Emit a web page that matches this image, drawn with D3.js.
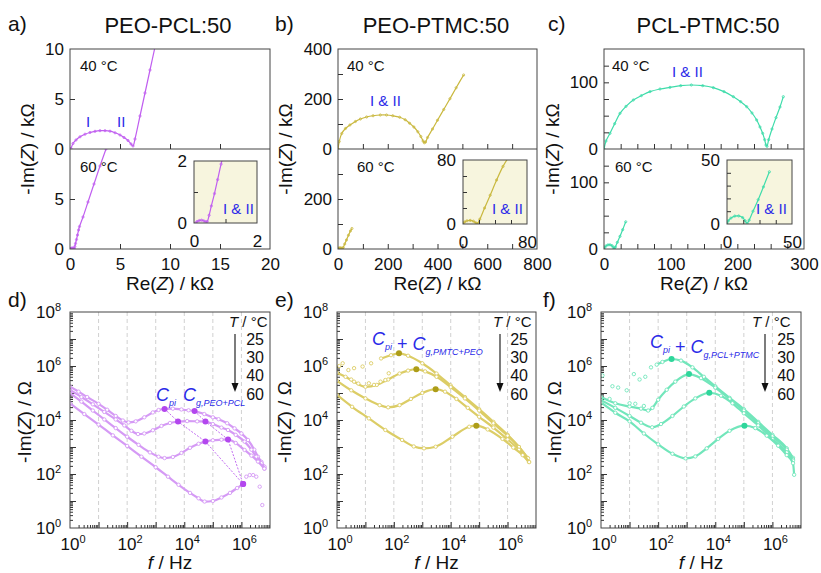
<!DOCTYPE html>
<html><head><meta charset="utf-8">
<script src="https://cdn.jsdelivr.net/npm/d3@7"></script>
<style>body{margin:0;background:#fff} svg text{font-family:"Liberation Sans",Arial,sans-serif}</style>
</head><body>
<svg id="c" width="821" height="573"></svg>
<script>
// ================= DATA =================
const titles = ["PEO-PCL:50", "PEO-PTMC:50", "PCL-PTMC:50"];
const letters = ["a)", "b)", "c)", "d)", "e)", "f)"];
const nyqTemps = ["40 °C", "60 °C"];
const bodeTemps = ["25", "30", "40", "60"];

// Nyquist data: [Re(Z) kΩ, -Im(Z) kΩ]
const a40 = [[0.1,0.05],[0.3,0.55],[0.6,0.9],[1.0,1.22],[1.5,1.48],[2.0,1.65],[2.5,1.77],[3.0,1.83],[3.5,1.83],[4.0,1.78],[4.5,1.62],[5.0,1.4],[5.4,1.15],[5.8,0.85],[6.1,0.5],[6.3,0.3],[6.5,1.0],[7.0,3.3],[7.5,5.6],[8.0,7.9],[8.5,10.2]];
const a60 = [[0.05,0],[0.1,0.05],[0.17,0.08],[0.24,0.09],[0.31,0.07],[0.37,0.04],[0.42,0.05],[0.48,0.25],[0.55,0.55],[0.65,0.95],[0.75,1.4],[0.86,1.9],[0.95,2.25],[1.3,3.2],[1.8,4.7],[2.4,6.5],[3.0,8.3],[3.6,10.0],[3.8,10.6]];
const b40 = [[0,0],[5,30],[15,62],[30,82],[48,96],[70,110],[90,120],[115,128],[141,133],[170,136],[195,136],[220,133],[248,127],[270,117],[288,103],[305,88],[321,69],[333,50],[342,32],[347,25],[352,28],[360,46],[380,80],[400,115],[425,158],[450,201],[475,245],[505,296]];
const b60 = [[0,0],[2,2.5],[5,4],[9,4.5],[13,3.5],[16,1.5],[18,0.5],[21,6],[27,20],[34,36],[42,55],[50,72],[56,82]];
const c40 = [[0,0],[3,12],[9,23.5],[16,38],[24,53.5],[33,64],[44,73.5],[56,80],[69,86],[84,90],[99,92.5],[115,95],[131,96],[148,95],[164,92],[180,86],[194,78.5],[205,71],[214,63.5],[222,54],[229,43.5],[234,33],[238,23.5],[241,14],[243,6],[244.5,4],[247,14],[252,30],[258,47],[264,63],[269,78.5]];
const c60 = [[0,0],[1,2.5],[3,4.6],[6,6.2],[9,6.3],[12,5],[14,2.5],[15.5,0.5],[17,3],[20,10],[24,19],[28,29],[32.6,40.8]];

// Nyquist axis ticks
const aXLabels = [0,5,10,15,20], aXTicks = [5,10,15], aYTopLabels = [0,5,10], aYBotLabels = [0,5], aYTicks = [5];
const bXLabels = [0,200,400,600,800], bXTicks = [100,200,300,400,500,600,700], bYTopLabels = [0,200,400], bYBotLabels = [0,200], bYTicks = [100,200,300];
const cXLabels = [0,100,200,300], cXTicks = [25,50,75,100,125,150,175,200,225,250,275], cYTopLabels = [0,100], cYBotLabels = [0,100], cYTicks = [25,50,75,100,125];
const aInsetTicksX = [1], aInsetTicksY = [1];
const bInsetTicksX = [20,40,60], bInsetTicksY = [20,40,60];
const cInsetTicksX = [12.5,25,37.5], cInsetTicksY = [10,20,30,40];

// Bode data: [log10(f / Hz), log10(-Im(Z) / Ω)]
const d25 = [[0,5.23],[0.3,5.05],[0.6,4.85],[1.0,4.6],[1.3,4.38],[1.6,4.15],[1.85,3.98],[2.05,3.91],[2.3,3.95],[2.6,4.1],[2.9,4.28],[3.1,4.37],[3.31,4.41],[3.6,4.42],[3.9,4.39],[4.15,4.36],[4.36,4.33],[4.7,4.22],[5.0,4.1],[5.2,4.03],[5.5,3.88],[5.76,3.69],[6.0,3.5],[6.23,3.26],[6.45,2.9],[6.58,2.64],[6.7,2.45],[6.81,2.27]];
const d30 = [[0,5.11],[0.4,4.85],[0.8,4.58],[1.2,4.3],[1.6,4.02],[1.9,3.8],[2.15,3.6],[2.38,3.48],[2.6,3.5],[2.9,3.62],[3.2,3.78],[3.5,3.89],[3.78,3.94],[4.1,3.96],[4.45,3.95],[4.74,3.94],[5.0,3.85],[5.3,3.72],[5.53,3.63],[5.8,3.45],[6.11,3.2],[6.35,2.9],[6.52,2.64],[6.7,2.4],[6.81,2.2]];
const d40 = [[0,5.0],[0.4,4.68],[0.8,4.35],[1.2,4.02],[1.6,3.7],[2.0,3.38],[2.4,3.08],[2.8,2.8],[3.1,2.64],[3.31,2.59],[3.6,2.63],[3.9,2.78],[4.2,2.97],[4.5,3.12],[4.74,3.2],[5.0,3.25],[5.3,3.27],[5.53,3.28],[5.8,3.15],[6.11,2.89],[6.35,2.68],[6.58,2.46],[6.8,2.2]];
const d60 = [[0,4.62],[0.5,4.22],[1.0,3.83],[1.5,3.43],[2.0,3.04],[2.5,2.64],[3.0,2.25],[3.43,1.9],[3.8,1.6],[4.2,1.3],[4.5,1.1],[4.71,0.98],[5.0,1.0],[5.3,1.13],[5.6,1.3],[5.85,1.48],[6.06,1.63]];
const d60tail = [[6.17,1.9],[6.29,1.96],[6.41,1.96],[6.52,1.9],[6.64,1.53],[6.73,0.85]];
const dCpi = [[3.31,4.41],[3.78,3.94],[4.74,3.2],[6.06,1.63]];
const dCg  = [[4.36,4.33],[4.74,3.94],[5.53,3.28],[6.06,1.63]];

const e25 = [[1.55,6.28],[1.9,6.4],[2.18,6.47],[2.5,6.38],[3.0,6.1],[3.5,5.72],[4.0,5.28],[4.5,4.85],[5.0,4.4],[5.5,3.93],[6.0,3.45],[6.4,3.0],[6.7,2.6]];
const e30 = [[0,5.75],[0.3,5.6],[0.6,5.42],[1.0,5.23],[1.4,5.3],[1.8,5.5],[2.2,5.72],[2.5,5.83],[2.79,5.88],[3.1,5.8],[3.5,5.6],[4.0,5.22],[4.5,4.8],[5.0,4.35],[5.5,3.88],[6.0,3.42],[6.4,3.0],[6.72,2.58]];
const e40 = [[0,5.45],[0.5,5.1],[1.0,4.8],[1.5,4.55],[1.8,4.47],[2.2,4.55],[2.6,4.78],[3.0,5.0],[3.47,5.14],[3.8,5.05],[4.2,4.78],[4.6,4.45],[5.0,4.12],[5.5,3.72],[6.0,3.28],[6.4,2.9],[6.75,2.45]];
const e60 = [[0,4.93],[0.53,4.49],[1.12,4.06],[1.7,3.63],[2.29,3.26],[2.7,3.02],[3.06,2.95],[3.47,3.01],[4.06,3.38],[4.65,3.75],[4.9,3.79],[5.3,3.65],[5.82,3.3],[6.2,2.98],[6.53,2.7],[6.76,2.44]];
const eScatter = [[0.08,6.0],[0.2,6.1],[0.4,5.85],[0.6,5.92],[0.9,5.98],[1.2,6.1],[1.12,5.36],[1.3,5.3],[1.53,5.42],[1.7,5.48],[1.82,5.73],[0.5,5.5],[0.75,5.35]];
const eMark = [[2.18,6.47],[2.79,5.88],[3.47,5.14],[4.9,3.79]];

const f25 = [[1.95,6.05],[2.15,6.15],[2.47,6.26],[2.8,6.2],[3.2,5.95],[3.6,5.6],[4.0,5.25],[4.5,4.82],[5.0,4.4],[5.5,3.93],[6.0,3.45],[6.5,2.95],[6.72,2.6]];
const f30 = [[0,4.85],[0.5,4.62],[1.0,4.5],[1.4,4.42],[1.65,4.35],[1.8,4.45],[2.0,4.75],[2.3,5.12],[2.6,5.42],[3.08,5.7],[3.5,5.55],[4.0,5.2],[4.5,4.78],[5.0,4.35],[5.5,3.88],[6.0,3.4],[6.5,2.9],[6.72,2.55]];
const f40 = [[0,4.74],[0.5,4.45],[1.0,4.15],[1.4,3.9],[1.79,3.73],[2.1,3.85],[2.5,4.15],[2.9,4.5],[3.3,4.8],[3.79,5.01],[4.2,4.9],[4.6,4.62],[5.0,4.25],[5.5,3.8],[6.0,3.3],[6.5,2.8],[6.72,2.5]];
const f60 = [[0,4.65],[0.5,4.27],[1.0,3.95],[1.5,3.5],[2.0,3.1],[2.5,2.75],[2.96,2.58],[3.3,2.65],[3.7,2.95],[4.1,3.3],[4.5,3.6],[5.02,3.79],[5.4,3.7],[5.8,3.42],[6.2,3.05],[6.5,2.7],[6.72,2.4],[6.76,1.97]];
const fScatter = [[0.05,5.65],[0.4,5.25],[0.6,5.2],[0.9,5.1],[1.15,5.7],[1.35,5.5],[1.55,5.6],[1.75,5.95],[0.3,4.78],[1.2,4.6],[1.5,4.52],[1.0,4.62]];
const fMark = [[2.47,6.26],[3.08,5.7],[3.79,5.01],[5.02,3.79]];

const bodeXLabelExp = [0,2,4,6];
const bodeYLabelExp = [0,2,4,6,8];

// ================= DRAWING =================
const svg = d3.select("#c");
const defs = svg.append("defs");
const FONT = '"Liberation Sans", Arial, sans-serif';
const BLUE = "#2b2be8";
let clipN = 0;
function clip(x, y, w, h) {
  const id = "clip" + (clipN++);
  defs.append("clipPath").attr("id", id).append("rect").attr("x", x).attr("y", y).attr("width", w).attr("height", h);
  return "url(#" + id + ")";
}
function txt(g, x, y, s, size, anchor, color, italic) {
  return g.append("text").attr("x", x).attr("y", y).attr("font-size", size)
    .attr("text-anchor", anchor || "start").attr("fill", color || "#111")
    .attr("font-style", italic ? "italic" : null).text(s);
}
function styleAxis(sel, size) {
  sel.attr("font-family", FONT).attr("font-size", size);
  sel.select(".domain").remove();
  sel.selectAll("line").attr("stroke", "#333");
  sel.selectAll("text").attr("fill", "#111");
}
function zLabel(t, pre, post) {
  t.append("tspan").text(pre);
  t.append("tspan").attr("font-style", "italic").text("Z");
  t.append("tspan").text(post);
}

function nyquist(o) {
  const g = svg.append("g");
  const T = 49, M = 149, B = 249;
  const x = d3.scaleLinear().domain([0, o.xmax]).range([o.x0, o.x1]);
  const yT = d3.scaleLinear().domain([0, o.ymax]).range([M, T]);
  const yB = d3.scaleLinear().domain([0, o.ymax]).range([B, M]);
  const line = (xs, ys) => d3.line().x(d => xs(d[0])).y(d => ys(d[1])).curve(d3.curveCatmullRom);
  function curve(data, xs, ys, cp) {
    const cg = g.append("g").attr("clip-path", cp);
    cg.append("path").attr("d", line(xs, ys)(data)).attr("fill", "none").attr("stroke", o.color).attr("stroke-width", 1.2);
    cg.selectAll("circle.m").data(data).enter().append("circle")
      .attr("cx", d => xs(d[0])).attr("cy", d => ys(d[1])).attr("r", 1.1)
      .attr("fill", "none").attr("stroke", o.color).attr("stroke-width", 0.8);
  }
  curve(o.top, x, yT, clip(o.x0, T, o.x1 - o.x0, M - T));
  curve(o.bot, x, yB, clip(o.x0, M, o.x1 - o.x0, B - M));
  // frame
  g.append("rect").attr("x", o.x0).attr("y", T).attr("width", o.x1 - o.x0).attr("height", B - T).attr("fill", "none").attr("stroke", "#444").attr("stroke-width", 1);
  g.append("line").attr("x1", o.x0).attr("x2", o.x1).attr("y1", M).attr("y2", M).attr("stroke", "#444");
  // ticks
  [[M], [B]].forEach(([yy]) => {
    const ax = g.append("g").attr("transform", `translate(0,${yy})`).call(d3.axisBottom(x).tickValues(o.xTicks).tickSize(-5).tickFormat(""));
    styleAxis(ax, 17);
  });
  [yT, yB].forEach(ys => {
    const ax = g.append("g").attr("transform", `translate(${o.x0},0)`).call(d3.axisLeft(ys).tickValues(o.yTicks).tickSize(-5).tickFormat(""));
    styleAxis(ax, 17);
  });
  // labels
  let ax = g.append("g").attr("transform", `translate(0,${B})`).call(d3.axisBottom(x).tickValues(o.xLabels).tickSize(0).tickPadding(9).tickFormat(d3.format("d")));
  styleAxis(ax, 17);
  ax = g.append("g").attr("transform", `translate(${o.x0},0)`).call(d3.axisLeft(yT).tickValues(o.yTopLabels).tickSize(0).tickPadding(6).tickFormat(d3.format("d")));
  styleAxis(ax, 17);
  ax = g.append("g").attr("transform", `translate(${o.x0},0)`).call(d3.axisLeft(yB).tickValues(o.yBotLabels).tickSize(0).tickPadding(6).tickFormat(d3.format("d")));
  styleAxis(ax, 17);
  // inset
  const I = o.inset;
  const xi = d3.scaleLinear().domain([0, I.max]).range([I.x0, I.x1]);
  const yi = d3.scaleLinear().domain([0, I.max]).range([I.y1, I.y0]);
  g.append("rect").attr("x", I.x0).attr("y", I.y0).attr("width", I.x1 - I.x0).attr("height", I.y1 - I.y0).attr("fill", "#f7f5de");
  curve(o.bot, xi, yi, clip(I.x0, I.y0, I.x1 - I.x0, I.y1 - I.y0));
  g.append("rect").attr("x", I.x0).attr("y", I.y0).attr("width", I.x1 - I.x0).attr("height", I.y1 - I.y0).attr("fill", "none").attr("stroke", "#444");
  ax = g.append("g").attr("transform", `translate(0,${I.y1})`).call(d3.axisBottom(xi).tickValues(I.tx).tickSize(-4).tickFormat(""));
  styleAxis(ax, 17);
  ax = g.append("g").attr("transform", `translate(${I.x0},0)`).call(d3.axisLeft(yi).tickValues(I.ty).tickSize(-4).tickFormat(""));
  styleAxis(ax, 17);
  ax = g.append("g").attr("transform", `translate(0,${I.y1})`).call(d3.axisBottom(xi).tickValues([0, I.max]).tickSize(0).tickPadding(12).tickFormat(d3.format("d")));
  styleAxis(ax, 17);
  ax = g.append("g").attr("transform", `translate(${I.x0},0)`).call(d3.axisLeft(yi).tickValues([0, I.max]).tickSize(0).tickPadding(7).tickFormat(d3.format("d")));
  styleAxis(ax, 17);
  // texts
  txt(g, o.x0 + o.t40dx, 71, nyqTemps[0], 15);
  txt(g, o.x0 + o.t60dx, 172, nyqTemps[1], 15);
  o.blue.forEach(b => txt(g, b[0], b[1], b[2], 15, "start", BLUE));
  txt(g, I.x0 + 29, 214, "I & II", 15, "start", BLUE);
  txt(g, o.letterX, 31, o.letter, 21);
  txt(g, o.titleX, 33, o.title, 22, "middle");
  const xt = g.append("text").attr("x", (o.x0 + o.x1) / 2).attr("y", 290).attr("font-size", 19).attr("text-anchor", "middle").attr("fill", "#111");
  zLabel(xt, "Re(", ") / kΩ");
  const yt = g.append("text").attr("transform", `translate(${o.ylabX + 7},149) rotate(-90)`).attr("font-size", 19).attr("text-anchor", "middle").attr("fill", "#111");
  zLabel(yt, "-Im(", ") / kΩ");
}

function pow10Label(g, x, y, e, anchor, size) {
  const t = g.append("text").attr("x", x).attr("y", y).attr("text-anchor", anchor).attr("font-size", size).attr("fill", "#111");
  t.append("tspan").text("10");
  t.append("tspan").attr("font-size", 11).attr("dy", -7).text(e);
}

function bode(o) {
  const g = svg.append("g");
  const T = 312, B = 528;
  const x = d3.scaleLog().domain([1, 1e7]).range([o.x0, o.x1]);
  const y = d3.scaleLog().domain([1, 1e8]).range([B, T]);
  const P = d => [Math.pow(10, d[0]), Math.pow(10, d[1])];
  // grid
  const dec = d3.range(1, 7).map(e => Math.pow(10, e));
  g.selectAll("line.grid").data(dec).enter().append("line")
    .attr("x1", d => x(d)).attr("x2", d => x(d)).attr("y1", T).attr("y2", B)
    .attr("stroke", "#c4c4c4").attr("stroke-width", 0.8).attr("stroke-dasharray", "4,3");
  // ticks
  const minorX = [], minorY = [];
  for (let e = 0; e < 7; e++) for (let k = 2; k < 10; k++) minorX.push(k * Math.pow(10, e));
  for (let e = 0; e < 8; e++) for (let k = 2; k < 10; k++) minorY.push(k * Math.pow(10, e));
  const majX = d3.range(1, 7).map(e => Math.pow(10, e));
  const majY = d3.range(1, 8).map(e => Math.pow(10, e));
  let ax = g.append("g").attr("transform", `translate(0,${B})`).call(d3.axisBottom(x).tickValues(minorX).tickSize(-3).tickFormat(""));
  styleAxis(ax, 16);
  ax = g.append("g").attr("transform", `translate(0,${B})`).call(d3.axisBottom(x).tickValues(majX).tickSize(-6).tickFormat(""));
  styleAxis(ax, 16);
  ax = g.append("g").attr("transform", `translate(${o.x0},0)`).call(d3.axisLeft(y).tickValues(minorY).tickSize(-3).tickFormat(""));
  styleAxis(ax, 16);
  ax = g.append("g").attr("transform", `translate(${o.x0},0)`).call(d3.axisLeft(y).tickValues(majY).tickSize(-6).tickFormat(""));
  styleAxis(ax, 16);
  // curves
  const cp = clip(o.x0, T, o.x1 - o.x0, B - T);
  const cg = g.append("g").attr("clip-path", cp);
  const line = d3.line().x(d => x(d[0])).y(d => y(d[1])).curve(d3.curveMonotoneX);
  o.series.forEach(s => {
    const pts = s.map(P);
    cg.append("path").attr("d", line(pts)).attr("fill", "none").attr("stroke", o.light).attr("stroke-width", 2.2);
    cg.selectAll(null).data(pts).enter().append("circle").attr("cx", d => x(d[0])).attr("cy", d => y(d[1])).attr("r", 1.7)
      .attr("fill", "#fff").attr("stroke", o.light).attr("stroke-width", 0.9);
  });
  o.dots.forEach(s => {
    cg.selectAll(null).data(s.map(P)).enter().append("circle").attr("cx", d => x(d[0])).attr("cy", d => y(d[1])).attr("r", 1.7)
      .attr("fill", "#fff").attr("stroke", o.light).attr("stroke-width", 0.9);
  });
  (o.guides || []).forEach(s => {
    cg.append("path").attr("d", d3.line().x(d => x(d[0])).y(d => y(d[1]))(s.map(P))).attr("fill", "none")
      .attr("stroke", o.dark).attr("stroke-width", 0.8).attr("stroke-dasharray", "2,1.5");
  });
  o.marks.forEach(s => {
    cg.selectAll(null).data(s.map(P)).enter().append("circle").attr("cx", d => x(d[0])).attr("cy", d => y(d[1])).attr("r", 3)
      .attr("fill", o.dark);
  });
  // frame
  g.append("rect").attr("x", o.x0).attr("y", T).attr("width", o.x1 - o.x0).attr("height", B - T).attr("fill", "none").attr("stroke", "#444");
  // labels
  bodeXLabelExp.forEach(e => pow10Label(g, x(Math.pow(10, e)) + 3, 550, e, "middle", 17));
  bodeYLabelExp.forEach(e => pow10Label(g, o.x0 - 9, y(Math.pow(10, e)) + 6, e, "end", 17));
  const xt = g.append("text").attr("x", (o.x0 + o.x1) / 2).attr("y", 569).attr("font-size", 19).attr("text-anchor", "middle").attr("fill", "#111");
  xt.append("tspan").attr("font-style", "italic").text("f");
  xt.append("tspan").text(" / Hz");
  const yt = g.append("text").attr("transform", `translate(${o.ylabX + 7},422) rotate(-90)`).attr("font-size", 19).attr("text-anchor", "middle").attr("fill", "#111");
  zLabel(yt, "-Im(", ") / Ω");
  txt(g, o.letterX, 307, o.letter, 21);
  // legend
  const L = o.legend;
  const lt = g.append("text").attr("x", L.tx).attr("y", 327).attr("font-size", 15).attr("fill", "#111");
  lt.append("tspan").attr("font-style", "italic").text("T");
  lt.append("tspan").text(" / °C");
  bodeTemps.forEach((t, i) => txt(g, L.nx, 345 + i * 18.2, t, 16, "end"));
  g.append("line").attr("x1", L.ax).attr("x2", L.ax).attr("y1", 334).attr("y2", 385).attr("stroke", "#111").attr("stroke-width", 1.1);
  g.append("path").attr("d", `M${L.ax - 3.5},383 L${L.ax + 3.5},383 L${L.ax},392 Z`).attr("fill", "#111");
  // annotations
  o.notes.forEach(n => {
    const t = g.append("text").attr("x", n.x).attr("y", n.y).attr("font-size", 18).attr("fill", BLUE).attr("font-style", "italic");
    n.parts.forEach(p => {
      if (p.sub) { t.append("tspan").attr("font-size", 9).attr("dy", 5).text(p.s); t.append("tspan").attr("dy", -5).text(""); }
      else t.append("tspan").attr("font-style", p.up ? "normal" : "italic").text(p.s);
    });
  });
}

nyquist({ x0: 70, x1: 270, xmax: 20, ymax: 10, top: a40, bot: a60, color: "#c05ef0",
  xTicks: aXTicks, xLabels: aXLabels, yTicks: aYTicks, yTopLabels: aYTopLabels, yBotLabels: aYBotLabels,
  inset: { x0: 194, x1: 257, y0: 161, y1: 223, max: 2, tx: aInsetTicksX, ty: aInsetTicksY, data: a60 },
  t40dx: 10, t60dx: 10, blue: [[86, 127, "I"], [117, 127, "II"]],
  letter: letters[0], letterX: 8, title: titles[0], titleX: 168, ylabX: 27 });
nyquist({ x0: 338, x1: 537, xmax: 800, ymax: 400, top: b40, bot: b60, color: "#c9b83e",
  xTicks: bXTicks, xLabels: bXLabels, yTicks: bYTicks, yTopLabels: bYTopLabels, yBotLabels: bYBotLabels,
  inset: { x0: 463, x1: 527, y0: 160, y1: 224, max: 80, tx: bInsetTicksX, ty: bInsetTicksY, data: b60 },
  t40dx: 9, t60dx: 19, blue: [[370, 106, "I & II"]],
  letter: letters[1], letterX: 275, title: titles[1], titleX: 436, ylabX: 285 });
nyquist({ x0: 604, x1: 804, xmax: 300, ymax: 150, top: c40, bot: c60, color: "#3edcaa",
  xTicks: cXTicks, xLabels: cXLabels, yTicks: cYTicks, yTopLabels: cYTopLabels, yBotLabels: cYBotLabels,
  inset: { x0: 727, x1: 792, y0: 160, y1: 224, max: 50, tx: cInsetTicksX, ty: cInsetTicksY, data: c60 },
  t40dx: 8, t60dx: 11, blue: [[672, 77, "I & II"]],
  letter: letters[2], letterX: 548, title: titles[2], titleX: 708, ylabX: 552 });

bode({ x0: 70, x1: 270, light: "#d59af5", dark: "#b347ee",
  series: [d25, d30, d40, d60], dots: [d60tail], guides: [dCpi, dCg], marks: [dCpi, dCg],
  letter: letters[3], letterX: 8, ylabX: 24,
  legend: { tx: 229, nx: 264, ax: 235 },
  notes: [{ x: 156, y: 401, parts: [{ s: "C" }, { s: "pi", sub: true }] },
          { x: 183, y: 401, parts: [{ s: "C" }, { s: "g,PEO+PCL", sub: true }] }] });
bode({ x0: 337, x1: 536, light: "#dccd66", dark: "#ad9d18",
  series: [e25, e30, e40, e60], dots: [eScatter], marks: [eMark],
  letter: letters[4], letterX: 275, ylabX: 284,
  legend: { tx: 493, nx: 528, ax: 500 },
  notes: [{ x: 372, y: 345, parts: [{ s: "C" }, { s: "pi", sub: true }, { s: " + ", up: true }, { s: "C" }, { s: "g,PMTC+PEO", sub: true }] }] });
bode({ x0: 601, x1: 801, light: "#72e6bb", dark: "#2fd69b",
  series: [f25, f30, f40, f60], dots: [fScatter], marks: [fMark],
  letter: letters[5], letterX: 543, ylabX: 554,
  legend: { tx: 752, nx: 795, ax: 765 },
  notes: [{ x: 650, y: 348, parts: [{ s: "C" }, { s: "pi", sub: true }, { s: " + ", up: true }, { s: "C" }, { s: "g,PCL+PTMC", sub: true }] }] });
</script>
</body></html>
